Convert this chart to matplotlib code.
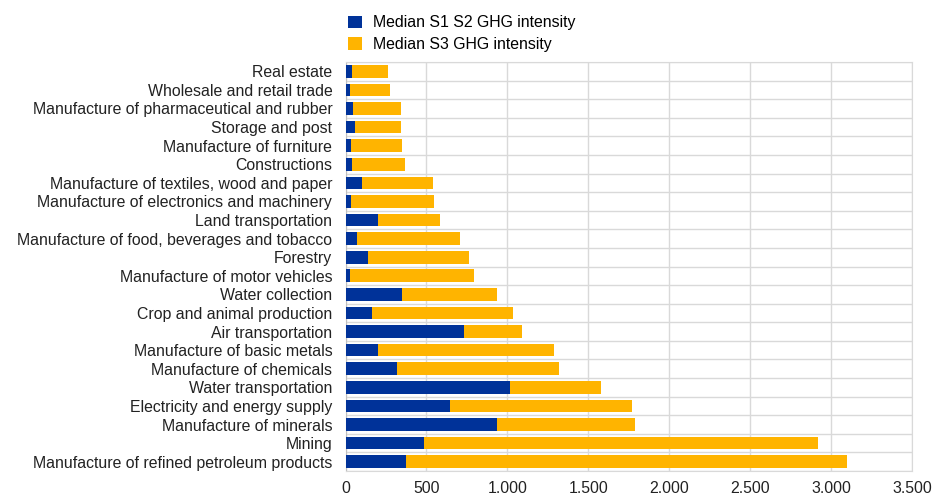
import matplotlib.pyplot as plt
import numpy as np
from matplotlib.ticker import FuncFormatter, MultipleLocator

plt.rcParams['font.family'] = ['Liberation Sans', 'DejaVu Sans']

# sectors from top to bottom as they appear in the chart
sectors = [
    "Real estate",
    "Wholesale and retail trade",
    "Manufacture of pharmaceutical and rubber",
    "Storage and post",
    "Manufacture of furniture",
    "Constructions",
    "Manufacture of textiles, wood and paper",
    "Manufacture of electronics and machinery",
    "Land transportation",
    "Manufacture of food, beverages and tobacco",
    "Forestry",
    "Manufacture of motor vehicles",
    "Water collection",
    "Crop and animal production",
    "Air transportation",
    "Manufacture of basic metals",
    "Manufacture of chemicals",
    "Water transportation",
    "Electricity and energy supply",
    "Manufacture of minerals",
    "Mining",
    "Manufacture of refined petroleum products",
]
s1s2 = [43, 27, 49, 56, 33, 39, 105, 31, 202, 72, 142, 27, 348, 163, 733,
        198, 317, 1014, 644, 934, 488, 372]
total = [265, 274, 340, 344, 352, 366, 541, 547, 586, 706, 765, 796, 936,
         1037, 1088, 1288, 1317, 1580, 1770, 1790, 2918, 3101]
s3 = [t - a for t, a in zip(total, s1s2)]

blue = '#003299'
yellow = '#FFB400'
fs = 11.4

fig = plt.figure(figsize=(9.34, 4.95), dpi=100)
ax = fig.add_axes([345.5 / 934, 1 - 471 / 495, (912 - 345.5) / 934, (471 - 62) / 495])

y = np.arange(len(sectors))
ax.barh(y, s1s2, height=0.68, color=blue, label='Median S1 S2 GHG intensity', zorder=3)
ax.barh(y, s3, left=s1s2, height=0.68, color=yellow, label='Median S3 GHG intensity', zorder=3)

ax.set_ylim(len(sectors) - 0.5, -0.5)
ax.set_xlim(0, 3500)
ax.set_yticks(y)
ax.set_yticklabels(sectors, fontsize=fs, color='#222222')
ax.set_yticks(np.arange(len(sectors) + 1) - 0.5, minor=True)
ax.xaxis.set_major_locator(MultipleLocator(500))
ax.xaxis.set_major_formatter(FuncFormatter(lambda v, p: f"{int(v):,}".replace(',', '.')))
ax.tick_params(axis='x', labelsize=fs, length=0, pad=7.5, colors='#222222')
ax.tick_params(axis='y', which='both', length=0, pad=9.5)

ax.grid(axis='x', which='major', color='#d9d9d9', linewidth=1, zorder=0)
ax.grid(axis='y', which='minor', color='#d9d9d9', linewidth=1, zorder=0)
for s in ax.spines.values():
    s.set_color('#d9d9d9')
ax.spines['left'].set_color('#bfbfbf')

fig.legend(loc='upper left', bbox_to_anchor=(342 / 934, 1 - 9 / 495), frameon=False,
           fontsize=fs, handlelength=0.85, handleheight=0.85, handletextpad=0.7,
           labelspacing=0.42, borderaxespad=0)

fig.savefig('out.png', dpi=100)
